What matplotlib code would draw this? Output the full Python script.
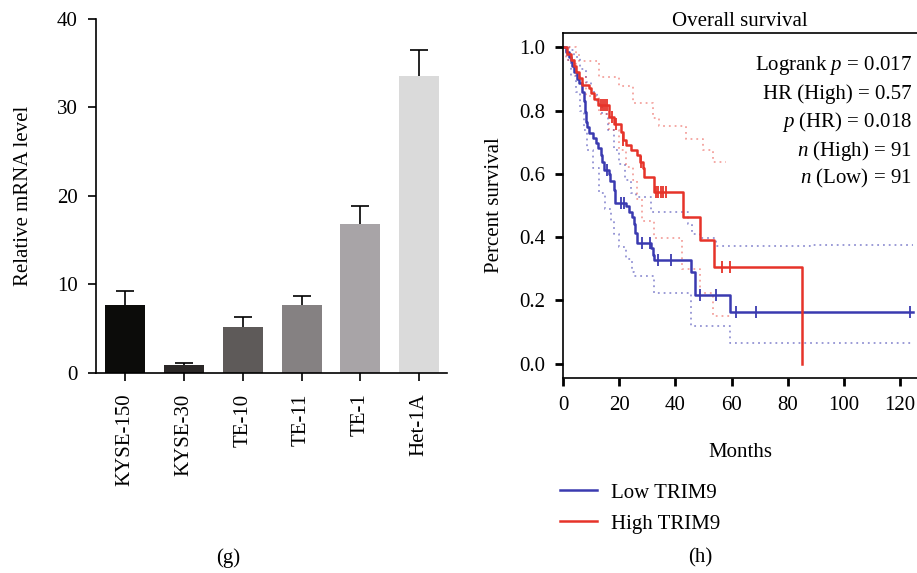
import numpy as np
import matplotlib
matplotlib.use("Agg")
import matplotlib.pyplot as plt
from matplotlib.lines import Line2D

plt.rcParams["font.family"] = ["Liberation Serif", "DejaVu Serif"]
plt.rcParams["mathtext.fontset"] = "custom"
plt.rcParams["mathtext.it"] = "Liberation Serif:italic"
plt.rcParams["mathtext.rm"] = "Liberation Serif"

# --- Panel (g): relative mRNA level ---
cell_lines = ["KYSE-150", "KYSE-30", "TE-10", "TE-11", "TE-1", "Het-1A"]
mrna_mean = [7.66, 0.87, 5.17, 7.66, 16.82, 33.56]
mrna_err = [1.62, 0.19, 1.10, 0.98, 2.04, 2.94]
bar_colors = ["#0c0c0a", "#2b2827", "#5e5a59", "#858182", "#a8a4a7", "#dadada"]
mrna_ticks = [0, 10, 20, 30, 40]

# --- Panel (h): Kaplan-Meier, Overall survival ---
low_t = [0, 0.9, 2.1, 2.7, 3.3, 3.9, 5.1, 5.7, 6.9, 7.3, 7.7, 8.1, 8.7, 9.3, 10.5,
         11.7, 12.3, 13.5, 14.0, 14.6, 16.4, 16.8, 18.2, 18.6, 22.4, 23.6, 24.4,
         25.4, 25.7, 26.3, 26.5, 31.3, 31.9, 32.5, 45.6, 46.8, 59.6, 124.6]
low_s = [1.0, 0.985, 0.97, 0.955, 0.94, 0.922, 0.90, 0.886, 0.86, 0.83, 0.797,
         0.765, 0.749, 0.73, 0.713, 0.697, 0.681, 0.66, 0.638, 0.612, 0.601, 0.576,
         0.55, 0.507, 0.497, 0.48, 0.465, 0.44, 0.412, 0.396, 0.38, 0.365, 0.345,
         0.328, 0.291, 0.218, 0.162, 0.162]
low_cens = [15.8, 20.6, 21.8, 28.0, 30.8, 33.7, 38.5, 48.6, 54.5, 61.7, 68.8, 123.6]

high_t = [0, 1.5, 2.7, 3.9, 4.5, 5.7, 6.9, 9.3, 9.9, 11.1, 12.3, 16.4, 18.2, 20.6,
          21.2, 22.4, 24.2, 26.5, 27.3, 28.3, 28.9, 32.5, 42.6, 48.6, 53.6, 84.9, 84.9]
high_s = [1.0, 0.98, 0.959, 0.94, 0.922, 0.904, 0.882, 0.87, 0.855, 0.838, 0.817,
          0.78, 0.757, 0.733, 0.707, 0.69, 0.675, 0.659, 0.638, 0.62, 0.59, 0.543,
          0.465, 0.39, 0.307, 0.0, 0.0]
high_cens = [13.5, 14.3, 15.0, 15.8, 17.6, 18.8, 21.5, 27.8, 33.1, 33.9, 34.7,
             35.5, 36.5, 56.6, 59.3]

# 95% confidence bands
low_up_t = [0, 2, 4, 6, 8, 10, 12, 14, 16, 18.2, 20, 22, 24.2, 26, 31.3, 44.5,
            46, 48.6, 54.5, 88, 124.6]
low_up_s = [1.0, 0.99, 0.97, 0.93, 0.89, 0.86, 0.82, 0.79, 0.74, 0.675, 0.63,
            0.58, 0.54, 0.528, 0.48, 0.44, 0.41, 0.396, 0.372, 0.376, 0.376]
low_lo_t = [0, 1.5, 3, 4.5, 6, 7.5, 8.6, 10.5, 12.9, 15, 17, 18.2, 20, 22.4, 24.5,
            25.4, 32.5, 45.6, 59.6, 124.6]
low_lo_s = [1.0, 0.96, 0.91, 0.86, 0.8, 0.74, 0.675, 0.62, 0.54, 0.49, 0.45, 0.41,
            0.37, 0.33, 0.29, 0.276, 0.223, 0.12, 0.067, 0.067]
high_up_t = [0, 4.5, 5.7, 12.9, 20.0, 24.8, 31.9, 34.3, 43.8, 49.8, 53.3, 58.1]
high_up_s = [1.0, 0.98, 0.955, 0.907, 0.876, 0.825, 0.775, 0.75, 0.71, 0.675,
             0.638, 0.638]
high_lo_t = [0, 1.2, 4.5, 8.1, 12.9, 16.4, 20.0, 22.4, 24.8, 26.5, 28.0, 32.5,
             42.4, 48.6, 53.3, 59.3]
high_lo_s = [1.0, 0.96, 0.907, 0.845, 0.79, 0.737, 0.675, 0.622, 0.58, 0.52, 0.45,
             0.396, 0.30, 0.223, 0.15, 0.15]

stats_lines = [r"Logrank $p$ = 0.017", "HR (High) = 0.57", r"$p$ (HR) = 0.018",
               r"$n$ (High) = 91", r"$n$ (Low) = 91"]

BLUE = "#3a3ab0"
RED = "#e63329"
FS = 15


def step_value(ts, ss, t):
    i = np.searchsorted(ts, t, side="right") - 1
    return np.asarray(ss)[i]


fig = plt.figure(figsize=(9.17, 5.73), dpi=100)

# ---- (g) ----
ax1 = fig.add_axes([0.1047, 0.3496, 0.3828, 0.6172])
x = np.arange(len(cell_lines))
ax1.bar(x, mrna_mean, width=0.68, color=bar_colors, zorder=2)
tops = np.array(mrna_mean) + np.array(mrna_err)
ax1.vlines(x, mrna_mean, tops, color="black", lw=1.2, zorder=1)
ax1.plot(x, tops, ls="none", marker="_", ms=13, mew=1.2, color="black", zorder=1)
ax1.set_xlim(-0.49, 5.47)
ax1.set_ylim(0, 40)
ax1.set_yticks(mrna_ticks)
ax1.set_xticks(x)
ax1.set_xticklabels(cell_lines, rotation=90)
ax1.spines["top"].set_visible(False)
ax1.spines["right"].set_visible(False)
for s in ["left", "bottom"]:
    ax1.spines[s].set_linewidth(1.2)
ax1.tick_params(axis="both", labelsize=FS, length=6, width=1.2, pad=7)
ax1.tick_params(axis="x", pad=9)
ax1.set_ylabel("Relative mRNA level", fontsize=FS, labelpad=17)
fig.text(0.249, 0.026, "(g)", fontsize=FS, ha="center", va="center")

# ---- (h) ----
ax2 = fig.add_axes([0.614, 0.3403, 0.386, 0.6021])
dots = (0, (1, 2.2))
ax2.step(low_up_t, low_up_s, where="post", color=BLUE, ls=dots, lw=1.3, alpha=0.55)
ax2.step(low_lo_t, low_lo_s, where="post", color=BLUE, ls=dots, lw=1.3, alpha=0.55)
ax2.step(high_up_t, high_up_s, where="post", color=RED, ls=dots, lw=1.3, alpha=0.45)
ax2.step(high_lo_t, high_lo_s, where="post", color=RED, ls=dots, lw=1.3, alpha=0.45)
ax2.step(low_t, low_s, where="post", color=BLUE, lw=1.8)
ax2.step(high_t, high_s, where="post", color=RED, lw=1.8)
ax2.plot(low_cens, [step_value(low_t, low_s, t) for t in low_cens], ls="none",
         marker="|", ms=9, mew=1.3, color=BLUE)
ax2.plot(high_cens, [step_value(high_t, high_s, t) for t in high_cens], ls="none",
         marker="|", ms=9, mew=1.3, color=RED)
ax2.set_xlim(0, 126)
ax2.set_ylim(-0.045, 1.045)
ax2.set_xticks([0, 20, 40, 60, 80, 100, 120])
ax2.set_yticks([0.0, 0.2, 0.4, 0.6, 0.8, 1.0])
ax2.yaxis.set_major_formatter(matplotlib.ticker.FormatStrFormatter("%.1f"))
ax2.spines["right"].set_visible(False)
for s in ["left", "bottom", "top"]:
    ax2.spines[s].set_linewidth(1.2)
ax2.tick_params(axis="both", labelsize=FS, length=6, width=2, pad=7)
ax2.set_title("Overall survival", fontsize=FS, pad=5)
ax2.set_xlabel("Months", fontsize=FS, labelpad=20)
ax2.set_ylabel("Percent survival", fontsize=FS, labelpad=11)
for i, line in enumerate(stats_lines):
    ax2.text(0.985, 0.905 - i * 0.082, line, transform=ax2.transAxes, fontsize=FS,
             ha="right", va="center")

handles = [Line2D([], [], color=BLUE, lw=1.8), Line2D([], [], color=RED, lw=1.8)]
fig.legend(handles, ["Low TRIM9", "High TRIM9"], loc="upper left",
           bbox_to_anchor=(0.611, 0.157), frameon=False, fontsize=FS,
           handlelength=1.75, handletextpad=0.7, labelspacing=0.55, borderaxespad=0,
           borderpad=0)
fig.text(0.764, 0.026, "(h)", fontsize=FS, ha="center", va="center")

fig.savefig("out.png", dpi=100)
